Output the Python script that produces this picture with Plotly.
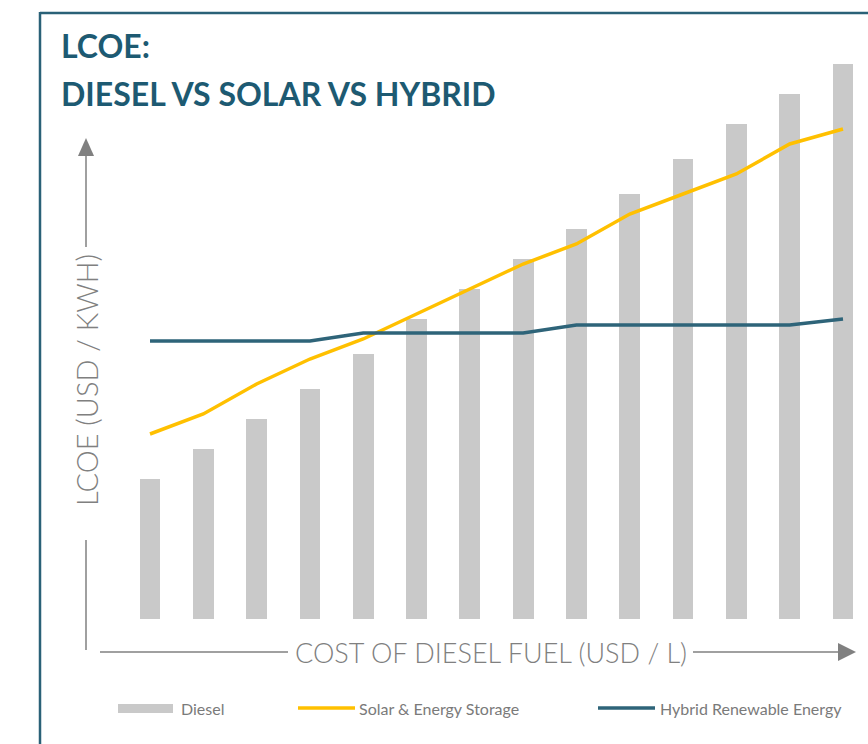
import plotly.graph_objects as go

W, H = 868, 744

fuel_cost_steps = list(range(14))
diesel = [0.28, 0.34, 0.40, 0.46, 0.53, 0.60, 0.66, 0.72, 0.78, 0.85, 0.92, 0.99, 1.05, 1.11]
solar_storage = [0.37, 0.41, 0.47, 0.52, 0.56, 0.61, 0.66, 0.71, 0.75, 0.81, 0.85, 0.89, 0.95, 0.98]
hybrid = [0.556, 0.556, 0.556, 0.556, 0.572, 0.572, 0.572, 0.572, 0.588, 0.588, 0.588, 0.588, 0.588, 0.60]

series_names = ["Diesel", "Solar & Energy Storage", "Hybrid Renewable Energy"]
title_lines = ["LCOE:", "DIESEL VS SOLAR VS HYBRID"]
x_label = "COST OF DIESEL FUEL (USD / L)"
y_label = "LCOE (USD / KWH)"

C_BAR = "#c9c9c9"
C_SOLAR = "#ffc000"
C_HYB = "#2e6479"
C_TITLE = "#1d5a72"
C_FRAME = "#2a6177"
C_AXIS = "#808080"

fig = go.Figure()
fig.add_trace(go.Bar(x=fuel_cost_steps, y=diesel, name=series_names[0],
                     marker=dict(color=C_BAR, line=dict(width=0)), width=0.39,
                     showlegend=False))
fig.add_trace(go.Scatter(x=fuel_cost_steps, y=solar_storage, name=series_names[1], mode="lines",
                         line=dict(color=C_SOLAR, width=3.5), showlegend=False))
fig.add_trace(go.Scatter(x=fuel_cost_steps, y=hybrid, name=series_names[2], mode="lines",
                         line=dict(color=C_HYB, width=3.5), showlegend=False))


def px(xp):
    return xp / W


def py(yp):
    return 1 - yp / H


shapes = []
# frame
shapes.append(dict(type="line", xref="paper", yref="paper", x0=px(40), y0=py(13), x1=px(880), y1=py(13),
                   line=dict(color=C_FRAME, width=2.5)))
shapes.append(dict(type="line", xref="paper", yref="paper", x0=px(40), y0=py(12), x1=px(40), y1=py(760),
                   line=dict(color=C_FRAME, width=2.5)))
# y axis arrow
shapes.append(dict(type="line", xref="paper", yref="paper", x0=px(86), y0=py(650), x1=px(86), y1=py(540),
                   line=dict(color=C_AXIS, width=1.5)))
shapes.append(dict(type="line", xref="paper", yref="paper", x0=px(86), y0=py(247), x1=px(86), y1=py(152),
                   line=dict(color=C_AXIS, width=1.5)))
shapes.append(dict(type="path", xref="paper", yref="paper",
                   path=f"M {px(78)} {py(156)} L {px(94)} {py(156)} L {px(86)} {py(138)} Z",
                   fillcolor=C_AXIS, line=dict(width=0)))
# x axis arrow
shapes.append(dict(type="line", xref="paper", yref="paper", x0=px(100), y0=py(652), x1=px(288), y1=py(652),
                   line=dict(color=C_AXIS, width=1.5)))
shapes.append(dict(type="line", xref="paper", yref="paper", x0=px(693), y0=py(652), x1=px(842), y1=py(652),
                   line=dict(color=C_AXIS, width=1.5)))
shapes.append(dict(type="path", xref="paper", yref="paper",
                   path=f"M {px(838)} {py(643)} L {px(838)} {py(661)} L {px(856)} {py(652)} Z",
                   fillcolor=C_AXIS, line=dict(width=0)))
# legend symbols
shapes.append(dict(type="rect", xref="paper", yref="paper", x0=px(118), y0=py(713), x1=px(173), y1=py(704),
                   fillcolor=C_BAR, line=dict(width=0)))
shapes.append(dict(type="line", xref="paper", yref="paper", x0=px(298), y0=py(708), x1=px(355), y1=py(708),
                   line=dict(color=C_SOLAR, width=3.5)))
shapes.append(dict(type="line", xref="paper", yref="paper", x0=px(598), y0=py(708), x1=px(655), y1=py(708),
                   line=dict(color=C_HYB, width=3.5)))

ann = []
ann.append(dict(text=f"<b>{title_lines[0]}</b>", xref="paper", yref="paper", x=px(59), y=py(46),
                xanchor="left", yanchor="middle", showarrow=False,
                font=dict(family="Lato", size=32, color=C_TITLE, weight=900)))
ann.append(dict(text=f"<b>{title_lines[1]}</b>", xref="paper", yref="paper", x=px(59), y=py(93),
                xanchor="left", yanchor="middle", showarrow=False,
                font=dict(family="Lato", size=32, color=C_TITLE, weight=900)))
ann.append(dict(text=x_label, xref="paper", yref="paper", x=px(491), y=py(652),
                xanchor="center", yanchor="middle", showarrow=False,
                font=dict(family="Lato", size=27, color=C_AXIS, weight=300)))
ann.append(dict(text=y_label, xref="paper", yref="paper", x=px(86), y=py(380), textangle=-90,
                xanchor="center", yanchor="middle", showarrow=False,
                font=dict(family="Lato", size=29, color=C_AXIS, weight=300)))
leg_x = [179, 357, 658]
for name, lx in zip(series_names, leg_x):
    ann.append(dict(text=name, xref="paper", yref="paper", x=px(lx), y=py(708),
                    xanchor="left", yanchor="middle", showarrow=False,
                    font=dict(family="Lato", size=16, color="#7a7a7a")))

fig.update_layout(
    width=W, height=H,
    margin=dict(l=0, r=0, t=0, b=0),
    paper_bgcolor="white", plot_bgcolor="white",
    xaxis=dict(range=[-2.814, 13.469], visible=False, fixedrange=True),
    yaxis=dict(range=[-0.25, 1.238], visible=False, fixedrange=True),
    shapes=shapes, annotations=ann,
    bargap=0,
)

fig.write_html("out.html", config={"displayModeBar": False},
               post_script="document.body.style.margin='0';document.body.style.padding='0';")
